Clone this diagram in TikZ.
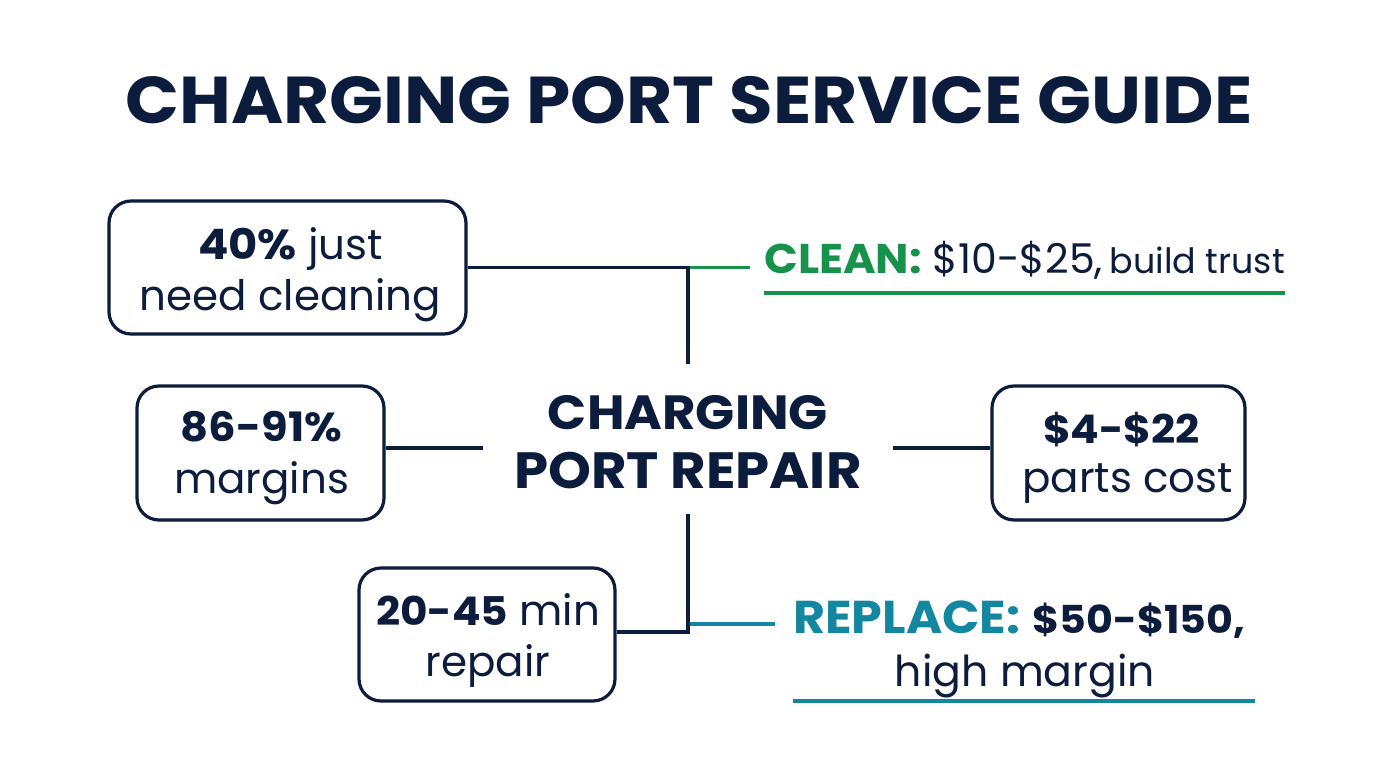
\documentclass[tikz,border=0pt]{standalone}
\usepackage{fontspec}
\setmainfont{Poppins}[BoldFeatures={FakeStretch=1.07}]
\definecolor{navy}{HTML}{0C1C3C}
\definecolor{cleangreen}{HTML}{17924A}
\definecolor{repteal}{HTML}{12879F}
\newcommand{\fs}[1]{\fontsize{#1}{#1}\selectfont}
% [gap], dx, dy, first line, second line: text set inside the box, offset from its centre
\newcommand{\boxtext}[5][7pt]{\raisebox{#3}[0pt][0pt]{\makebox[0pt]{\hspace*{#2}\begin{tabular}{@{}c@{}}#4\\[#1]#5\end{tabular}}}}
\tikzset{
 x=1pt,y=-1pt,
 box/.style={draw=navy,line width=3.2pt,rounded corners=22pt,text=navy,inner sep=0pt,font=\fs{42}},
 wire/.style={draw=navy,line width=3.2pt},
 wiregreen/.style={draw=cleangreen,line width=3.2pt},
 wireteal/.style={draw=repteal,line width=3.2pt},
 label/.style={inner sep=0pt,text=navy,align=center},
}
\begin{document}
\begin{tikzpicture}
\useasboundingbox (0,0) rectangle (1376,768);
\fill[white] (0,0) rectangle (1376,768);
\node[label,font=\fs{66.2}\bfseries] (title) at (689,100) {CHARGING PORT SERVICE GUIDE};
\node[box,minimum width=357pt,minimum height=133pt] (b1) at (287.5,267.5) {\boxtext{6pt}{-14pt}{\textbf{40\%} just}{need cleaning}};
\node[box,minimum width=247pt,minimum height=134pt] (b2) at (260.5,453) {\boxtext{2pt}{-12pt}{\textbf{\fs{40.5}86-91\%}}{margins}};
\node[box,minimum width=253pt,minimum height=134pt] (b3) at (1118.5,453) {\boxtext{18pt}{-12pt}{\hspace*{-12pt}\textbf{\fs{39.5}\$4-\$22}}{parts cost}};
\node[box,minimum width=256pt,minimum height=133pt] (b4) at (487,634.5) {\boxtext{2pt}{-13pt}{\textbf{\fs{39.5}20-45} min}{repair}};
\node[label,minimum width=410pt,minimum height=150pt,font=\fs{48}\bfseries] (hub) at (688,439) {\boxtext[9pt]{0pt}{-16.4pt}{CHARGING}{\fs{51}PORT REPAIR}};
\node[label,anchor=base west] (clean) at (764,273) {\textcolor{cleangreen}{\fs{41.5}\textbf{CLEAN:}}\hspace*{11pt}\fs{41}\$10-\$25, \hspace*{-4pt}\fs{34.9}build trust};
\node[label,anchor=base west] (repl) at (793,633) {\textcolor{repteal}{\fs{46}\textbf{REPLACE:}}\hspace*{12pt}\fs{38.5}\textbf{\$50-\$150,}};
\node[label,anchor=base] (repl2) at (1025,686) {\fs{42.6}high margin};
\coordinate (j1) at (688,267.5);
\coordinate (g1) at (750,267.5);
\coordinate (m) at (688,448);
\coordinate (j2) at (688,632);
\coordinate (t0) at (688,624);
\coordinate (t1) at (775,624);
\coordinate (ga) at (764,293);
\coordinate (gb) at (1285,293);
\coordinate (ta) at (793,701);
\coordinate (tb) at (1255,701);
\draw[wiregreen] (j1) -- (g1);
\draw[wireteal] (t0) -- (t1);
\draw[wire] (b1.east) -- (j1) -- (hub.north);
\draw[wire] (b2.east |- m) -- (hub.west |- m);
\draw[wire] (hub.east |- m) -- (b3.west |- m);
\draw[wire] (hub.south) -- (j2) -- (b4.east |- j2);
\draw[wiregreen] (ga) -- (gb);
\draw[wireteal] (ta) -- (tb);
\end{tikzpicture}
\end{document}
